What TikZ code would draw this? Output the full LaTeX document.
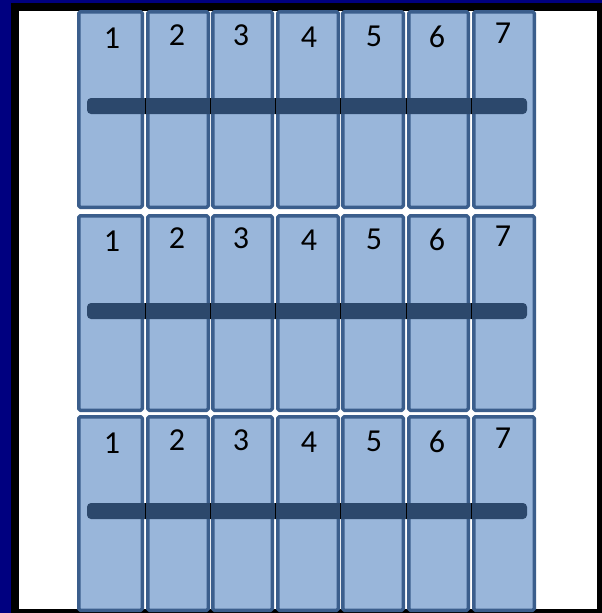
\documentclass[tikz,border=0pt]{standalone}
\usepackage{fontspec}
\setmainfont{Carlito}
\usetikzlibrary{positioning}

\definecolor{framenavy}{HTML}{000080}
\definecolor{slotfill}{HTML}{99B6DA}
\definecolor{slotedge}{HTML}{3B5E8C}
\definecolor{barfill}{HTML}{2C486C}

\begin{document}
\begin{tikzpicture}[
		x=1pt,
		y=-1pt,
		line join=round,
		slot/.style={fill=slotfill, draw=slotedge, line width=3.5pt, rounded corners=1.5pt},
		bar/.style={fill=barfill, rounded corners=4pt},
		gapline/.style={black, line width=0.9pt},
		numlab/.style={font=\fontsize{32}{32}\selectfont, anchor=base, inner sep=0pt}
	]
	
	% Parameters
	\def\ins{1.75} % half of the slot outline
	\def\barL{87}
	\def\barR{527}
	
	% Frame
	\useasboundingbox (0,0) rectangle (602,613);
	\fill[framenavy] (0,0) rectangle (602,613);
	\fill[black] (11,3) rectangle (602,613);
	\fill[white] (19,11) rectangle (597,609);
	
	% Slots: row / top / bottom / bar top / number shift
	\foreach \r/\top/\bot/\bt/\dy in {1/10/209/98/0, 2/214/412/303/203, 3/415/612/503/405} {
		\foreach \c/\xl/\xr in {1/77/144, 2/146/210, 3/211/274, 4/276/340, 5/341/405, 6/407/470, 7/472/536} {
			\draw[slot] (\xl+\ins,\top+\ins) rectangle (\xr-\ins,\bot-\ins);
		}
		% Bar across the row
		\fill[bar] (\barL,\bt) rectangle (\barR,\bt+16);
		\foreach \gx in {145,210.5,275,340.5,406,471} {
			\draw[gapline] (\gx,\bt) -- (\gx,\bt+16);
		}
		% Slot numbers
		\foreach \c/\nx/\nb in {1/112/48, 2/177/45, 3/241/45, 4/309/47, 5/374/46, 6/437/47, 7/503/43} {
			\node[numlab] (num\r\c) at (\nx,\nb+\dy) {\c};
		}
	}
	
\end{tikzpicture}
\end{document}
